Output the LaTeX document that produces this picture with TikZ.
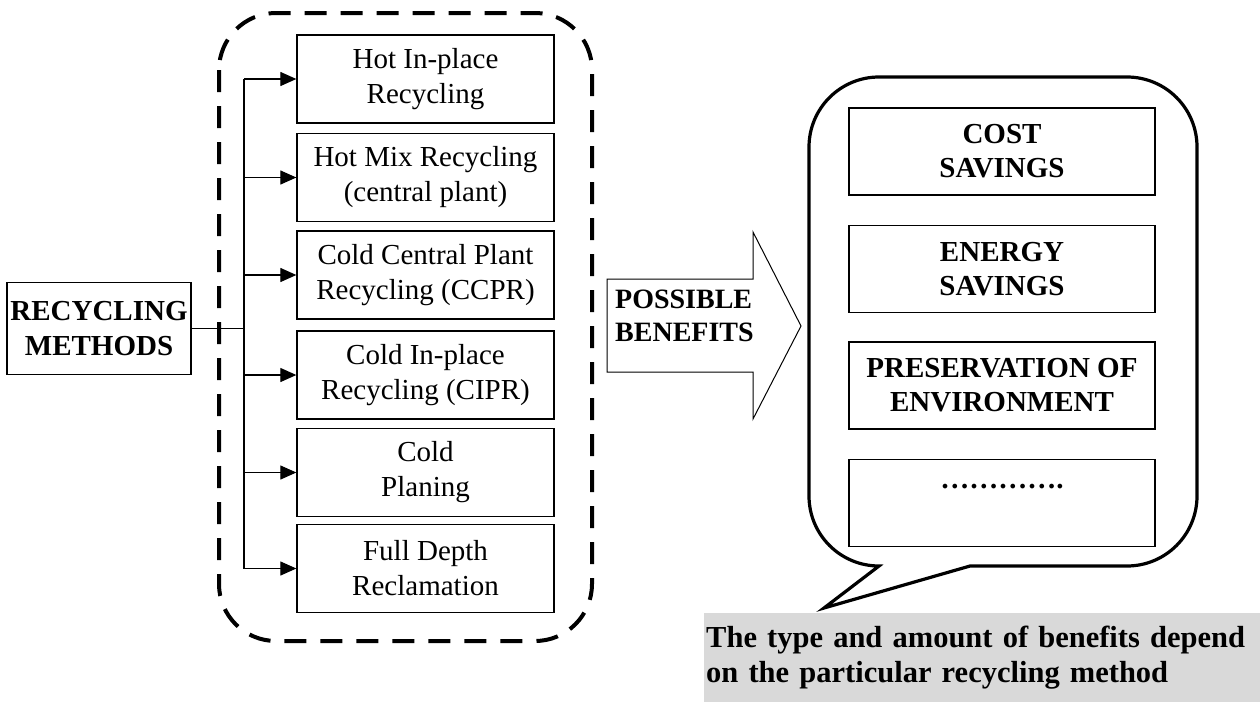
\documentclass[tikz,border=0pt]{standalone}
\usepackage{fontspec}
\setmainfont{Liberation Serif}
\usetikzlibrary{arrows.meta}
\definecolor{notegray}{RGB}{217,217,217}

\begin{document}
\begin{tikzpicture}[x=1pt,y=1pt,
  method/.style={draw,line width=1.3pt,minimum width=257pt,minimum height=88pt,align=center,inner sep=2pt,font=\fontsize{29}{35}\selectfont},
  benefit/.style={draw,line width=1.3pt,minimum width=306pt,minimum height=87pt,align=center,inner sep=2pt,font=\fontsize{29}{34}\selectfont\bfseries},
  link/.style={line width=1.2pt,-{Triangle[length=16pt,width=14pt]}}]
\useasboundingbox (0,0) rectangle (1260,-702);

% methods side
\node[draw,line width=1.3pt,minimum width=184pt,minimum height=92pt,align=center,inner sep=2pt,font=\fontsize{29}{35}\selectfont\bfseries] (rm) at (99,-328.5) {RECYCLING\\METHODS};
\draw[line width=4pt,dash pattern=on 22pt off 14pt,rounded corners=57pt] (219,-13) rectangle (592,-641);
\node[method] (m1) at (425.5,-79) {Hot In-place\\Recycling};
\node[method] (m2) at (425.5,-177.5) {Hot Mix Recycling\\(central plant)};
\node[method] (m3) at (425.5,-275) {Cold Central Plant\\Recycling (CCPR)};
\node[method] (m4) at (425.5,-375) {Cold In-place\\Recycling (CIPR)};
\node[method] (m5) at (425.5,-472.5) {Cold\\Planing};
\node[method] (m6) at (425.5,-568.5) {Full Depth\\Reclamation};
\coordinate (trunk) at (244,-328.5);
\draw[line width=1.2pt] (rm.east) -- (rm.east -| trunk);
\draw[line width=1.2pt] (m1.west -| trunk) -- (m6.west -| trunk);
\draw[link] (m1.west -| trunk) -- (m1.west);
\draw[link] (m2.west -| trunk) -- (m2.west);
\draw[link] (m3.west -| trunk) -- (m3.west);
\draw[link] (m4.west -| trunk) -- (m4.west);
\draw[link] (m5.west -| trunk) -- (m5.west);
\draw[link] (m6.west -| trunk) -- (m6.west);

% big arrow
\draw[line width=1pt,line join=miter] (607,-279) -- (753,-279) -- (753,-232) -- (801,-326) -- (753,-419) -- (753,-372) -- (607,-372) -- cycle;
\node[anchor=west,align=left,inner sep=0pt,font=\fontsize{28}{33}\selectfont\bfseries] (pb) at (615,-316) {POSSIBLE\\BENEFITS};

% callout with benefits
\draw[line width=3.2pt,line join=miter] (879,-566) -- (824,-608) -- (970,-566) -- (1127,-566)
  arc[start angle=270,end angle=360,radius=70pt] -- (1197,-147)
  arc[start angle=0,end angle=90,radius=70pt] -- (879,-77)
  arc[start angle=90,end angle=180,radius=70pt] -- (809,-496)
  arc[start angle=180,end angle=270,radius=70pt] -- cycle;
\node[benefit] (b1) at (1002,-151.5) {COST\\SAVINGS};
\node[benefit] (b2) at (1002,-269) {ENERGY\\SAVINGS};
\node[benefit] (b3) at (1002,-385.5) {PRESERVATION OF\\ENVIRONMENT};
\node[benefit] (b4) at (1002,-503) {…………. \\ \mbox{}};

\node[fill=notegray,anchor=north west,minimum width=556pt,minimum height=89pt,text width=552pt,inner xsep=2pt,inner ysep=0pt,align=left,font=\fontsize{30.5}{35}\selectfont\bfseries] (note) at (704,-613) {\mbox{The type and amount of benefits depend}\\\mbox{on the particular recycling method}};
\end{tikzpicture}
\end{document}
